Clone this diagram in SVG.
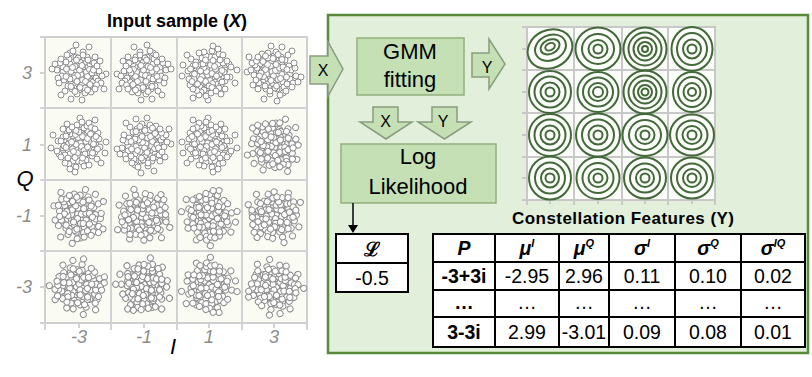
<svg xmlns="http://www.w3.org/2000/svg" xmlns:xlink="http://www.w3.org/1999/xlink" width="812" height="377" viewBox="0 0 812 377">
<style>
text{font-family:"Liberation Sans",Arial,sans-serif;fill:#000}
.tick{font-size:18px;font-style:italic;fill:#8c8c8c}
.ax{font-size:22px;font-style:italic}
.grid{stroke:#d2d2d2;stroke-width:2;fill:none}
.blk{fill:#c5e0b4;stroke:#8a9c80;stroke-width:1.5}
.box{fill:#c5e0b4;stroke:#93b07f;stroke-width:1.5}
.lbl{font-size:22px;text-anchor:middle}
.al{font-size:16px;text-anchor:middle}
.ring{fill:none;stroke:#43683a;stroke-width:2}
.tb{fill:#fff;stroke:#000;stroke-width:2}
.tl{stroke:#000;stroke-width:2}
.tt{font-size:19.5px;text-anchor:middle}
.th{font-size:19.5px;text-anchor:middle;font-weight:bold;font-style:italic}
.bd{font-weight:bold}
</style>
<defs>
<g id="cl" fill="#fff" stroke="#8c8c8c" stroke-width="1">
<circle cx="0" cy="0" r="3"/><circle cx="4" cy="2" r="3"/><circle cx="-3" cy="4" r="3"/><circle cx="-5" cy="-2" r="3"/><circle cx="2" cy="-5" r="3"/><circle cx="6" cy="-3" r="3"/><circle cx="-1" cy="6" r="3"/><circle cx="5" cy="5" r="3"/><circle cx="-6" cy="1" r="3"/><circle cx="-2" cy="-6" r="3"/><circle cx="1" cy="3" r="3"/><circle cx="-3" cy="-3" r="3"/><circle cx="3" cy="-1" r="3"/><circle cx="6" cy="1" r="3"/><circle cx="-4" cy="7" r="3"/>
<circle cx="9" cy="0" r="3"/><circle cx="8" cy="6" r="3"/><circle cx="4" cy="10" r="3"/><circle cx="-2" cy="10" r="3"/><circle cx="-7" cy="8" r="3"/><circle cx="-10" cy="3" r="3"/><circle cx="-10" cy="-3" r="3"/><circle cx="-7" cy="-8" r="3"/><circle cx="-1" cy="-10" r="3"/><circle cx="5" cy="-9" r="3"/><circle cx="9" cy="-6" r="3"/><circle cx="11" cy="3" r="3"/><circle cx="-11" cy="6" r="3"/><circle cx="7" cy="-11" r="3"/><circle cx="-5" cy="-11" r="3"/><circle cx="11" cy="-9" r="3"/><circle cx="-9" cy="-9" r="3"/><circle cx="1" cy="-12" r="3"/><circle cx="12" cy="8" r="3"/><circle cx="-12" cy="0" r="3"/><circle cx="3" cy="12" r="3"/><circle cx="-8" cy="11" r="3"/><circle cx="10" cy="10" r="3"/><circle cx="-4" cy="12" r="3"/><circle cx="12" cy="-3" r="3"/>
<circle cx="15" cy="2" r="3"/><circle cx="14" cy="9" r="3"/><circle cx="10" cy="14" r="3"/><circle cx="3" cy="16" r="3"/><circle cx="-5" cy="15" r="3"/><circle cx="-11" cy="13" r="3"/><circle cx="-15" cy="7" r="3"/><circle cx="-16" cy="-1" r="3"/><circle cx="-14" cy="-8" r="3"/><circle cx="-10" cy="-14" r="3"/><circle cx="-3" cy="-16" r="3"/><circle cx="5" cy="-15" r="3"/><circle cx="12" cy="-12" r="3"/><circle cx="16" cy="-6" r="3"/><circle cx="17" cy="5" r="3"/><circle cx="-17" cy="3" r="3"/><circle cx="0" cy="17" r="3"/><circle cx="8" cy="-16" r="3"/><circle cx="-13" cy="-11" r="3"/><circle cx="15" cy="-10" r="3"/><circle cx="-7" cy="16" r="3"/><circle cx="13" cy="13" r="3"/><circle cx="-16" cy="-6" r="3"/><circle cx="6" cy="15" r="3"/><circle cx="-1" cy="-15" r="3"/>
<circle cx="20" cy="-2" r="3"/><circle cx="19" cy="8" r="3"/><circle cx="12" cy="19" r="3"/><circle cx="-2" cy="21" r="3"/><circle cx="-14" cy="18" r="3"/><circle cx="-21" cy="5" r="3"/><circle cx="-19" cy="-10" r="3"/><circle cx="-9" cy="-20" r="3"/><circle cx="4" cy="-21" r="3"/><circle cx="16" cy="-16" r="3"/><circle cx="22" cy="10" r="3"/><circle cx="-22" cy="-3" r="3"/><circle cx="6" cy="20" r="3"/><circle cx="-6" cy="-22" r="3"/><circle cx="21" cy="-12" r="3"/>
<circle cx="27" cy="1" r="3"/><circle cx="-27" cy="-4" r="3"/><circle cx="3" cy="27" r="3"/><circle cx="-8" cy="26" r="3"/><circle cx="10" cy="-26" r="3"/><circle cx="-18" cy="22" r="3"/><circle cx="25" cy="16" r="3"/><circle cx="-3" cy="-28" r="3"/>
<circle cx="2" cy="1.5" r="3"/><circle cx="-1.5" cy="2.5" r="3"/><circle cx="7.5" cy="-1" r="3"/><circle cx="-8" cy="-1.5" r="3"/><circle cx="3.5" cy="7" r="3"/><circle cx="-5.5" cy="5" r="3"/><circle cx="0.5" cy="-3" r="3"/><circle cx="-4" cy="-6.5" r="3"/><circle cx="8.5" cy="3.5" r="3"/><circle cx="-2" cy="8.5" r="3"/><circle cx="3" cy="-7.5" r="3"/><circle cx="10.5" cy="-3.5" r="3"/><circle cx="-9" cy="6" r="3"/><circle cx="6.5" cy="8.5" r="3"/><circle cx="-6.5" cy="-5.5" r="3"/><circle cx="13" cy="0" r="3"/><circle cx="-13" cy="3.5" r="3"/><circle cx="1" cy="14.5" r="3"/><circle cx="-2.5" cy="-13" r="3"/><circle cx="9" cy="-13" r="3"/><circle cx="-12.5" cy="-4" r="3"/><circle cx="14.5" cy="-3" r="3"/><circle cx="-8" cy="13.5" r="3"/><circle cx="11" cy="11.5" r="3"/><circle cx="4" cy="-18" r="3"/><circle cx="-18" cy="-14" r="3"/><circle cx="17.5" cy="12" r="3"/><circle cx="-20" cy="10" r="3"/><circle cx="-12" cy="-18" r="3"/><circle cx="18" cy="-7" r="3"/><circle cx="8.5" cy="17" r="3"/><circle cx="-4" cy="18.5" r="3"/><circle cx="23" cy="3" r="3"/><circle cx="-24" cy="-9" r="3"/><circle cx="16" cy="16" r="3"/>
</g>
</defs>

<g id="input-plot">
<text x="177" y="27" font-size="18" font-weight="bold" text-anchor="middle">Input sample (<tspan font-style="italic">X</tspan>)</text>
<rect x="45" y="37" width="262" height="286" fill="#fafcf4" stroke="#cfcfcf" stroke-width="2"/>
<path class="grid" d="M111,37V330M177,37V330M242,37V330M307,323V330M45,323V330M40,108H307M40,180H307M40,251H307M40,37H45M40,323H45M40,73H45M40,145H45M40,216H45M40,287H45M79,323V328M144,323V328M209,323V328M274,323V328"/>
<use xlink:href="#cl" transform="translate(79,73)"/>
<use xlink:href="#cl" transform="translate(144,73) scale(-1,1)"/>
<use xlink:href="#cl" transform="translate(209,73) rotate(90)"/>
<use xlink:href="#cl" transform="translate(274,73) rotate(180)"/>
<use xlink:href="#cl" transform="translate(79,145) rotate(270)"/>
<use xlink:href="#cl" transform="translate(144,145) scale(1,-1)"/>
<use xlink:href="#cl" transform="translate(209,145) rotate(90) scale(-1,1)"/>
<use xlink:href="#cl" transform="translate(274,145) rotate(30)"/>
<use xlink:href="#cl" transform="translate(79,216) rotate(200)"/>
<use xlink:href="#cl" transform="translate(144,216) rotate(120)"/>
<use xlink:href="#cl" transform="translate(209,216) scale(-1,1) rotate(60)"/>
<use xlink:href="#cl" transform="translate(274,216) rotate(300)"/>
<use xlink:href="#cl" transform="translate(79,287) rotate(150)"/>
<use xlink:href="#cl" transform="translate(144,287) scale(1,-1) rotate(45)"/>
<use xlink:href="#cl" transform="translate(209,287) rotate(240)"/>
<use xlink:href="#cl" transform="translate(274,287) rotate(330)"/>
<text class="tick" x="32" y="79" text-anchor="end">3</text>
<text class="tick" x="32" y="151" text-anchor="end">1</text>
<text class="tick" x="32" y="222" text-anchor="end">-1</text>
<text class="tick" x="32" y="293" text-anchor="end">-3</text>
<text class="tick" x="79" y="343" text-anchor="middle">-3</text>
<text class="tick" x="144" y="343" text-anchor="middle">-1</text>
<text class="tick" x="209" y="343" text-anchor="middle">1</text>
<text class="tick" x="274" y="343" text-anchor="middle">3</text>
<text class="ax" x="25" y="186" text-anchor="middle">Q</text>
<text class="ax" x="173" y="354" text-anchor="middle">I</text>
</g>

<g id="panel">
<rect x="328" y="15" width="480" height="338" fill="#e2efda" stroke="#578a3a" stroke-width="2.5"/>
</g>

<g id="gmm">
<rect class="box" x="357" y="38" width="107" height="57"/>
<text class="lbl" x="410" y="59">GMM</text>
<text class="lbl" x="410" y="87">fitting</text>
</g>

<g id="loglik">
<rect class="box" x="341" y="144" width="155" height="59"/>
<text class="lbl" x="418" y="164">Log</text>
<text class="lbl" x="418" y="194">Likelihood</text>
</g>

<g id="contours">
<rect x="527" y="27" width="188" height="173" fill="#fbfdf8" stroke="#c8c8c8" stroke-width="2"/>
<path class="grid" style="stroke:#c8c8c8" d="M574,27V205M622,27V205M668,27V205M715,200V205M527,200V205M522,70H715M522,113H715M522,157H715M522,27H527M522,200H527M522,49H527M522,92H527M522,135H527M522,178H527M550,200V204M598,200V204M645,200V204M692,200V204"/>
<g class="ring">
<g transform="translate(550,49) rotate(-25)"><ellipse rx="23" ry="19"/><ellipse cx="1" cy="-1" rx="16" ry="12.5"/><ellipse cx="1" cy="-2" rx="10" ry="7"/><ellipse cx="1" cy="-2" rx="5" ry="3.5"/></g>
<g transform="translate(598,49)"><ellipse rx="22.5" ry="21.5"/><ellipse rx="16" ry="15"/><ellipse rx="9.5" ry="9"/><ellipse rx="4.5" ry="4.5"/></g>
<g transform="translate(645,49)"><circle r="21.5"/><circle r="16.5"/><circle r="11.5"/><circle r="7"/><circle r="3"/></g>
<g transform="translate(692,49)"><ellipse rx="20.5" ry="22"/><ellipse rx="15" ry="16"/><ellipse rx="9" ry="9.5"/><circle r="4.5"/></g>
<g transform="translate(550,92)"><circle r="21"/><circle r="15.5"/><circle r="9.5"/><circle r="4.5"/></g>
<g transform="translate(598,92)"><ellipse rx="20.5" ry="20"/><ellipse rx="15" ry="14.5"/><ellipse rx="9.5" ry="9"/><circle r="5"/></g>
<g transform="translate(645,92)"><circle r="21.5"/><circle r="16.5"/><circle r="11.5"/><circle r="7"/><circle r="3.5"/></g>
<g transform="translate(692,92)"><ellipse rx="19" ry="20"/><ellipse rx="14" ry="15"/><ellipse rx="8.5" ry="9"/><circle r="4"/></g>
<g transform="translate(550,135)"><circle r="21"/><circle r="15.5"/><circle r="9.5"/><circle r="4.5"/></g>
<g transform="translate(598,135)"><ellipse rx="22" ry="21.5"/><ellipse rx="16" ry="15.5"/><ellipse rx="9.5" ry="9.5"/><circle r="4.5"/></g>
<g transform="translate(645,135)"><ellipse rx="22.5" ry="21"/><ellipse rx="16" ry="15"/><ellipse rx="9.5" ry="9"/><circle r="4.5"/></g>
<g transform="translate(692,135)"><ellipse rx="22" ry="20.5"/><ellipse rx="15.5" ry="14.5"/><ellipse rx="9.5" ry="9"/><circle r="4.5"/></g>
<g transform="translate(550,178)"><ellipse rx="21" ry="21.5"/><ellipse rx="15" ry="15.5"/><ellipse rx="9" ry="9.5"/><circle r="4.5"/></g>
<g transform="translate(598,178)"><ellipse rx="21.5" ry="21"/><ellipse rx="15.5" ry="15"/><ellipse rx="9.5" ry="9"/><circle r="4.5"/></g>
<g transform="translate(645,178)"><ellipse rx="21" ry="20.5"/><ellipse rx="15" ry="14.5"/><ellipse rx="9" ry="9"/><circle r="4.5"/></g>
<g transform="translate(692,178)"><ellipse rx="21" ry="20.5"/><ellipse rx="15" ry="14.5"/><ellipse rx="9" ry="9"/><circle r="4.5"/></g>
</g>
<text x="623" y="224" font-size="17" font-weight="bold" text-anchor="middle" textLength="222" lengthAdjust="spacing">Constellation Features (Y)</text>
</g>

<g id="connectors">
<g id="arrow-x-in"><polygon class="blk" points="310,56 328,56 328,42 343,69 328,96 328,84 310,84"/><text class="al" x="323" y="76">X</text></g>
<g id="arrow-y-out"><polygon class="blk" points="472,53 489,53 489,39 505,64 489,89 489,77 472,77"/><text class="al" x="487" y="73">Y</text></g>
<g id="arrow-x-down"><polygon class="blk" points="373,107 398,107 398,122 412,122 386,139 360,122 373,122"/><text class="al" x="385.5" y="127">X</text></g>
<g id="arrow-y-down"><polygon class="blk" points="432,107 457,107 457,122 471,122 444.5,139 418,122 432,122"/><text class="al" x="443" y="127">Y</text></g>
<path d="M353,203V226" stroke="#000" stroke-width="1.5" fill="none"/>
<polygon points="348,225 358,225 353,233" fill="#000"/>
</g>

<g id="l-table">
<rect class="tb" x="336" y="234" width="72" height="58"/>
<path class="tl" d="M336,263H408"/>
<text class="tt" x="372" y="256" font-weight="bold" font-family="DejaVu Sans,sans-serif">ℒ</text>
<text class="tt" x="372" y="285">-0.5</text>
</g>

<g id="feature-table">
<rect class="tb" x="433" y="234" width="372" height="113"/>
<path class="tl" d="M433,262H805M433,290H805M433,317H805M495,234V347M559,234V347M609,234V347M675,234V347M741,234V347"/>
<text class="th" x="464" y="255">P</text>
<text class="th" x="527" y="255">μ<tspan font-size="11" dy="-8">I</tspan></text>
<text class="th" x="584" y="255">μ<tspan font-size="11" dy="-8">Q</tspan></text>
<text class="th" x="642" y="255">σ<tspan font-size="11" dy="-8">I</tspan></text>
<text class="th" x="708" y="255">σ<tspan font-size="11" dy="-8">Q</tspan></text>
<text class="th" x="773" y="255">σ<tspan font-size="11" dy="-8">IQ</tspan></text>
<text class="tt bd" x="464" y="283">-3+3i</text>
<text class="tt" x="527" y="283">-2.95</text>
<text class="tt" x="584" y="283">2.96</text>
<text class="tt" x="642" y="283">0.11</text>
<text class="tt" x="708" y="283">0.10</text>
<text class="tt" x="773" y="283">0.02</text>
<text class="tt bd" x="464" y="309">…</text>
<text class="tt" x="527" y="309">…</text>
<text class="tt" x="584" y="309">…</text>
<text class="tt" x="642" y="309">…</text>
<text class="tt" x="708" y="309">…</text>
<text class="tt" x="773" y="309">…</text>
<text class="tt bd" x="464" y="339">3-3i</text>
<text class="tt" x="527" y="339">2.99</text>
<text class="tt" x="584" y="339">-3.01</text>
<text class="tt" x="642" y="339">0.09</text>
<text class="tt" x="708" y="339">0.08</text>
<text class="tt" x="773" y="339">0.01</text>
</g>
</svg>
